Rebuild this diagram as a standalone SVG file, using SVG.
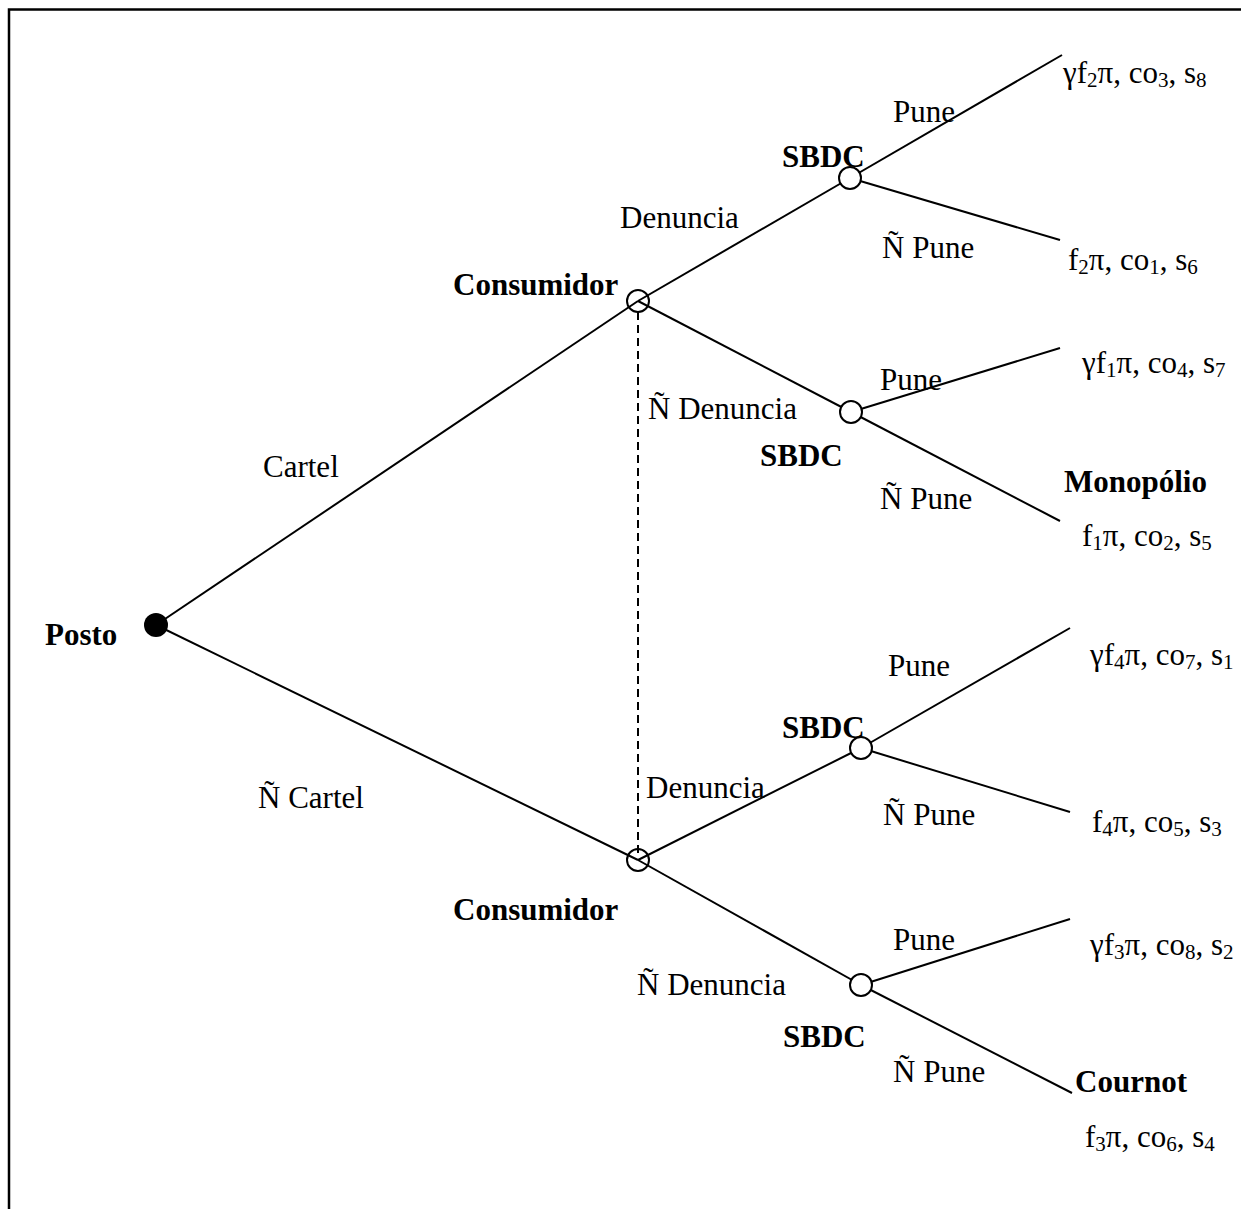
<svg xmlns="http://www.w3.org/2000/svg" width="1241" height="1209" viewBox="0 0 1241 1209">
<style>
text{font-family:"Liberation Serif","Times New Roman",serif;font-size:31px;fill:#000}
.b{font-weight:bold}
.sub{font-size:21px}
.e{stroke:#000;stroke-width:2;fill:none}
.d{stroke:#000;stroke-width:2;stroke-dasharray:8,5;fill:none}
.n{stroke:#000;stroke-width:2;fill:#fff}
.c{stroke:#000;stroke-width:2;fill:none}
</style>
<rect width="1241" height="1209" fill="#fff"/>
<path d="M9,1209 V9.5 H1241" stroke="#000" stroke-width="2.5" fill="none"/>
<g id="connectors">
<line class="e" x1="156" y1="625" x2="638" y2="301"/>
<line class="e" x1="156" y1="625" x2="638" y2="860"/>
<line class="d" x1="638" y1="312" x2="638" y2="856"/>
<line class="e" x1="638" y1="301" x2="850" y2="178"/>
<line class="e" x1="638" y1="301" x2="851" y2="412"/>
<line class="e" x1="638" y1="860" x2="861" y2="748"/>
<line class="e" x1="638" y1="860" x2="861" y2="985"/>
<line class="e" x1="850" y1="178" x2="1062" y2="55"/>
<line class="e" x1="850" y1="178" x2="1060" y2="240"/>
<line class="e" x1="851" y1="412" x2="1060" y2="348"/>
<line class="e" x1="851" y1="412" x2="1060" y2="521"/>
<line class="e" x1="861" y1="748" x2="1070" y2="628"/>
<line class="e" x1="861" y1="748" x2="1070" y2="812"/>
<line class="e" x1="861" y1="985" x2="1070" y2="919"/>
<line class="e" x1="861" y1="985" x2="1072" y2="1093"/>
<text x="263" y="477">Cartel</text>
<text x="258" y="808">Ñ Cartel</text>
<text x="620" y="228">Denuncia</text>
<text x="648" y="419">Ñ Denuncia</text>
<text x="646" y="798">Denuncia</text>
<text x="637" y="995">Ñ Denuncia</text>
<text x="893" y="122">Pune</text>
<text x="882" y="258">Ñ Pune</text>
<text x="880" y="390">Pune</text>
<text x="880" y="509">Ñ Pune</text>
<text x="888" y="676">Pune</text>
<text x="883" y="825">Ñ Pune</text>
<text x="893" y="950">Pune</text>
<text x="893" y="1082">Ñ Pune</text>
</g>
<g id="posto">
<circle cx="156" cy="625" r="12" fill="#000"/>
<text class="b" x="45" y="645">Posto</text>
</g>
<g id="consumidor1">
<circle class="c" cx="638" cy="301" r="11"/>
<text class="b" x="453" y="295">Consumidor</text>
</g>
<g id="consumidor2">
<circle class="c" cx="638" cy="860" r="11"/>
<text class="b" x="453" y="920">Consumidor</text>
</g>
<g id="sbdc1">
<circle class="n" cx="850" cy="178" r="11"/>
<text class="b" x="782" y="167">SBDC</text>
</g>
<g id="sbdc2">
<circle class="n" cx="851" cy="412" r="11"/>
<text class="b" x="760" y="466">SBDC</text>
</g>
<g id="sbdc3">
<circle class="n" cx="861" cy="748" r="11"/>
<text class="b" x="782" y="738">SBDC</text>
</g>
<g id="sbdc4">
<circle class="n" cx="861" cy="985" r="11"/>
<text class="b" x="783" y="1047">SBDC</text>
</g>
<g id="leaf1"><text x="1063" y="83">γf<tspan class="sub" dy="4">2</tspan><tspan dy="-4">π, co</tspan><tspan class="sub" dy="4">3</tspan><tspan dy="-4">, s</tspan><tspan class="sub" dy="4">8</tspan></text></g>
<g id="leaf2"><text x="1068" y="270">f<tspan class="sub" dy="4">2</tspan><tspan dy="-4">π, co</tspan><tspan class="sub" dy="4">1</tspan><tspan dy="-4">, s</tspan><tspan class="sub" dy="4">6</tspan></text></g>
<g id="leaf3"><text x="1082" y="373">γf<tspan class="sub" dy="4">1</tspan><tspan dy="-4">π, co</tspan><tspan class="sub" dy="4">4</tspan><tspan dy="-4">, s</tspan><tspan class="sub" dy="4">7</tspan></text></g>
<g id="leaf4"><text class="b" x="1064" y="492">Monopólio</text><text x="1082" y="546">f<tspan class="sub" dy="4">1</tspan><tspan dy="-4">π, co</tspan><tspan class="sub" dy="4">2</tspan><tspan dy="-4">, s</tspan><tspan class="sub" dy="4">5</tspan></text></g>
<g id="leaf5"><text x="1090" y="665">γf<tspan class="sub" dy="4">4</tspan><tspan dy="-4">π, co</tspan><tspan class="sub" dy="4">7</tspan><tspan dy="-4">, s</tspan><tspan class="sub" dy="4">1</tspan></text></g>
<g id="leaf6"><text x="1092" y="832">f<tspan class="sub" dy="4">4</tspan><tspan dy="-4">π, co</tspan><tspan class="sub" dy="4">5</tspan><tspan dy="-4">, s</tspan><tspan class="sub" dy="4">3</tspan></text></g>
<g id="leaf7"><text x="1090" y="955">γf<tspan class="sub" dy="4">3</tspan><tspan dy="-4">π, co</tspan><tspan class="sub" dy="4">8</tspan><tspan dy="-4">, s</tspan><tspan class="sub" dy="4">2</tspan></text></g>
<g id="leaf8"><text class="b" x="1075" y="1092">Cournot</text><text x="1085" y="1147">f<tspan class="sub" dy="4">3</tspan><tspan dy="-4">π, co</tspan><tspan class="sub" dy="4">6</tspan><tspan dy="-4">, s</tspan><tspan class="sub" dy="4">4</tspan></text></g>
</svg>
